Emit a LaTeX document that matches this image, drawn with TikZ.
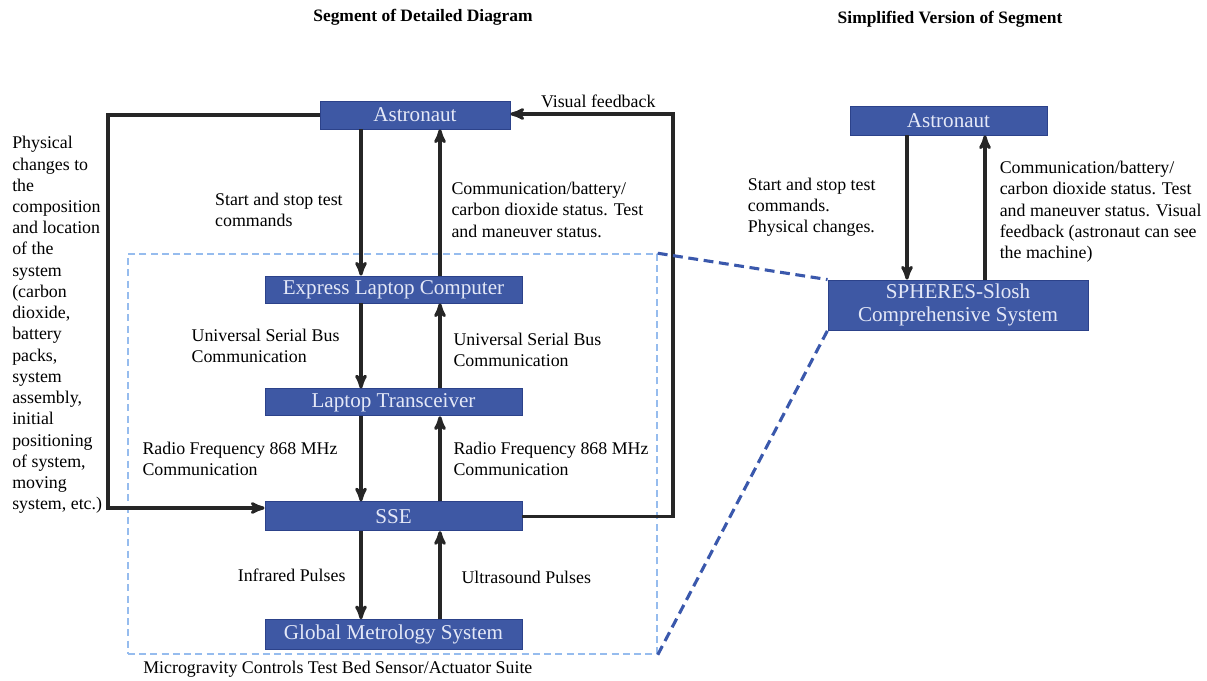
\documentclass[tikz,border=0pt]{standalone}
\usepackage{fontspec}
\setmainfont{Liberation Serif}
\usepackage{tikz}
\usetikzlibrary{arrows}
\usetikzlibrary{positioning}
\usepackage{xcolor}

\definecolor{boxblue}{RGB}{62,88,164}
\definecolor{boxedge}{RGB}{44,66,138}
\definecolor{boxtext}{RGB}{228,232,247}
\definecolor{suiteblue}{RGB}{150,188,238}
\definecolor{zoomblue}{RGB}{58,88,172}

% layout of the blue boxes, the labels and the arrows
\tikzset{
 block/.style={rectangle, fill=boxblue, draw=boxedge, line width=0.6pt,
  text=boxtext, inner sep=0pt, align=center,
  font=\fontsize{15}{17}\selectfont},
 lbl/.style={inner sep=0pt, align=left, text=black,
  font=\fontsize{12.7}{15.1}\selectfont},
 ttl/.style={inner sep=0pt, font=\fontsize{12.4}{14}\selectfont\bfseries},
 flow/.style={->, >=stealth', line width=2.2pt, draw=black!85},
 suitebox/.style={draw=suiteblue, line width=1pt, dash pattern=on 5pt off 3pt},
 zoomline/.style={draw=zoomblue, line width=2.2pt, dash pattern=on 7pt off 4pt}
}

\begin{document}
\begin{tikzpicture}[x=0.025cm, y=-0.025cm]

 \useasboundingbox (0,0) rectangle (1207,681);

 % titles of the two halves
 \node[ttl] (ttlL) at (423,17) {Segment of Detailed Diagram};
 \node[ttl] (ttlR) at (950,19) {Simplified Version of Segment};

 % dashed frame round the sensor/actuator suite
 \node[suitebox, minimum width=13.225cm, minimum height=10cm] (suite) at (392.5,454) {};
 \node[lbl, anchor=west] (suiteL) at (143,669)
  {Microgravity Controls Test Bed Sensor/Actuator Suite};

 % Detailed diagram: chain of boxes, one below the other
 \node[block, minimum width=4.75cm, minimum height=0.7cm] (astro) at (415,115) {Astronaut};
 \node[block, minimum width=6.425cm, minimum height=0.675cm] (express) at (393.5,289.5)
  {Express Laptop Computer};
 \node[block, minimum width=6.425cm, minimum height=0.675cm,
  below=2.125cm of express] (trans) {Laptop Transceiver};
 \node[block, minimum width=6.425cm, minimum height=0.725cm,
  below=2.125cm of trans] (sse) {SSE};
 \node[block, minimum width=6.425cm, minimum height=0.75cm,
  below=2.2cm of sse] (gms) {Global Metrology System};

 % Simplified version
 \node[block, minimum width=4.925cm, minimum height=0.725cm] (astroR) at (948.5,120.5) {Astronaut};
 \node[block, minimum width=6.5cm, minimum height=1.25cm] (spheres) at (958,305)
  {SPHERES-Slosh\\Comprehensive System};

 % x positions of the down and up arrows
 \coordinate (dnx) at (361,0);
 \coordinate (upx) at (440,0);
 \coordinate (dnr) at (907,0);
 \coordinate (upr) at (985,0);
 \coordinate (lcorner) at (108,508);
 \coordinate (rcorner) at (673,114);

 % draw the paths and print the text beside them
 \path (astro.south -| dnx) edge[flow] node[lbl, left=0.42cm, pos=0.55] (startL)
  {Start and stop test\\commands} (express.north -| dnx);
 \path (express.north -| upx) edge[flow] node[lbl, right=0.25cm, pos=0.45] (statL)
  {Communication/battery/\\carbon dioxide status. Test\\and maneuver status.} (astro.south -| upx);

 \path (express.south -| dnx) edge[flow] node[lbl, left=0.5cm] (usbL)
  {Universal Serial Bus\\Communication} (trans.north -| dnx);
 \path (trans.north -| upx) edge[flow] node[lbl, right=0.3cm, pos=0.45] (usbR)
  {Universal Serial Bus\\Communication} (express.south -| upx);

 \path (trans.south -| dnx) edge[flow] node[lbl, left=0.55cm] (rfL)
  {Radio Frequency 868 MHz\\Communication} (sse.north -| dnx);
 \path (sse.north -| upx) edge[flow] node[lbl, right=0.3cm] (rfR)
  {Radio Frequency 868 MHz\\Communication} (trans.south -| upx);

 \path (sse.south -| dnx) edge[flow] node[lbl, left=0.35cm] (irL)
  {Infrared Pulses} (gms.north -| dnx);
 \path (gms.north -| upx) edge[flow] node[lbl, right=0.5cm, pos=0.47] (usL)
  {Ultrasound Pulses} (sse.south -| upx);

 % feedback loops round the chain
 \draw[flow] (astro.west) -| (lcorner) -- (lcorner -| sse.west);
 \draw[flow] (sse.east) -| (rcorner) -- node[lbl, above=3pt, pos=0.46] (visL)
  {Visual feedback} (rcorner -| astro.east);

 \node[lbl, anchor=west] (physL) at (12,325)
  {Physical\\changes to\\the\\composition\\and location\\of the\\system\\(carbon\\dioxide,\\battery\\packs,\\system\\assembly,\\initial\\positioning\\of system,\\moving\\system, etc.)};

 % simplified arrows
 \path (astroR.south -| dnr) edge[flow] node[lbl, left=0.75cm] (startR)
  {Start and stop test\\commands.\\Physical changes.} (spheres.north -| dnr);
 \path (spheres.north -| upr) edge[flow] node[lbl, right=0.33cm, pos=0.47] (statR)
  {Communication/battery/\\carbon dioxide status. Test\\and maneuver status. Visual\\feedback (astronaut can see\\the machine)} (astroR.south -| upr);

 % zoom lines from the frame to the simplified box
 \draw[zoomline] (suite.north east) -- (spheres.north west);
 \draw[zoomline] (suite.south east) -- (spheres.south west);

\end{tikzpicture}
\end{document}
